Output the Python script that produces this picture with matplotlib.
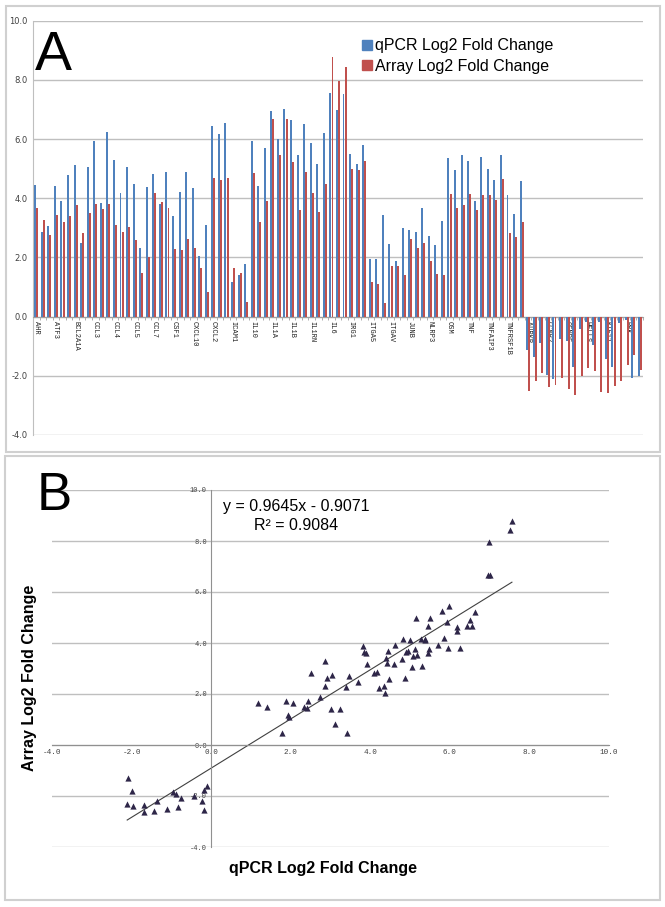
import matplotlib
matplotlib.use('Agg')
import matplotlib.pyplot as plt
import numpy as np
from matplotlib.patches import Patch, Rectangle

# log2 fold change per gene (93 genes)
qpcr = [4.45, 2.87, 3.05, 4.40, 3.91, 4.79, 5.12, 2.50, 5.07, 5.95, 3.84, 6.25, 5.29, 4.17, 5.05, 4.48, 2.33, 4.38, 4.81,
        3.82, 4.90, 3.40, 4.22, 4.88, 4.35, 2.05, 3.11, 6.43, 6.17, 6.55, 1.17, 1.41, 1.79, 5.93, 4.41, 5.69, 6.95,
        5.99, 7.02, 6.64, 5.45, 6.50, 5.86, 5.17, 6.19, 7.56, 6.98, 7.51, 5.51, 5.15, 5.81, 1.94, 1.95, 3.42, 2.44, 1.88,
        3.01, 2.92, 2.86, 3.68, 2.73, 2.42, 3.24, 5.37, 4.94, 5.47, 5.27, 3.90, 5.38, 4.99, 4.61, 5.45, 4.10, 3.46, 4.59,
        -1.12, -1.35, -0.88, -1.97, -2.11, -0.75, -0.84, -1.69, -0.42, -0.18, -0.97, -0.19, -1.44, -1.69, -0.22, -0.11,
        -2.08, -2.00]
array = [3.67, 3.28, 2.76, 3.42, 3.19, 3.39, 3.77, 2.83, 3.50, 3.80, 3.65, 3.82, 3.09, 2.86, 3.04, 2.58, 1.48, 2.03, 4.17,
         3.87, 3.66, 2.27, 2.24, 2.61, 2.33, 1.64, 0.84, 4.68, 4.61, 4.68, 1.64, 1.48, 0.48, 4.84, 3.21, 3.92, 6.68,
         5.45, 6.68, 5.23, 3.60, 4.89, 4.19, 3.54, 4.47, 8.78, 7.96, 8.45, 5.00, 4.97, 5.26, 1.18, 1.11, 0.47, 1.72, 1.72,
         1.40, 2.64, 2.32, 2.48, 1.89, 1.44, 1.42, 4.14, 3.67, 3.78, 4.14, 3.60, 4.10, 4.10, 3.94, 4.65, 2.82, 2.69, 3.19,
         -2.51, -2.19, -1.91, -2.39, -2.30, -2.07, -2.45, -2.64, -2.00, -1.75, -1.85, -2.56, -2.58, -2.35, -2.18, -1.62,
         -1.28, -1.80]
# only every third gene is labelled on the axis
gene_labels = ['AHR', 'ATF3', 'BCL2A1A', 'CCL3', 'CCL4', 'CCL5', 'CCL7', 'CSF1', 'CXCL10', 'CXCL2',
               'ICAM1', 'IL10', 'IL1A', 'IL1B', 'IL1RN', 'IL6', 'IRG1', 'ITGA5', 'ITGAV', 'JUNB',
               'NLRP3', 'OSM', 'TNF', 'TNFAIP3', 'TNFRSF1B', 'AURKB', 'CCNB2', 'CENPF', 'HELLS', 'KIF11', 'PBK']
slope, intercept = 0.9645, -0.9071

BLUE = '#4f81bd'
RED = '#c0504d'
GRID = '#bfbfbf'
W, H = 665, 907

fig = plt.figure(figsize=(W / 100, H / 100), dpi=100)
fig.patches.append(Rectangle((6 / W, 1 - 452 / H), 654 / W, 446 / H, transform=fig.transFigure,
                             fill=False, edgecolor='#d0d0d0', lw=1.5))
fig.patches.append(Rectangle((5 / W, 1 - 900 / H), 655 / W, 444 / H, transform=fig.transFigure,
                             fill=False, edgecolor='#d0d0d0', lw=1.5))

# ---- panel A: bars
ax = fig.add_axes([33 / W, 1 - 435 / H, 610 / W, 414.3 / H])
n = len(qpcr)
x = np.arange(n)
ax.bar(x - 0.16, qpcr, width=0.3, color=BLUE, lw=0, label='qPCR Log2 Fold Change', zorder=3)
ax.bar(x + 0.16, array, width=0.3, color=RED, lw=0, label='Array Log2 Fold Change', zorder=3)
ax.set_xlim(-0.5, n - 0.5)
ax.set_ylim(-4, 10)
for s in ['top', 'right']:
    ax.spines[s].set_visible(False)
ax.spines['left'].set_color(GRID)
ax.spines['bottom'].set_position(('data', 0))
ax.spines['bottom'].set_color('#a0a0a0')
ax.set_yticks(np.arange(-4, 10.1, 2))
ax.set_yticklabels([f'{v:.1f}' for v in np.arange(-4, 10.1, 2)], fontsize=6, color='#404040')
ax.yaxis.grid(True, color=GRID, lw=1, zorder=0)
ax.set_xticks(x[::3])
ax.set_xticklabels(gene_labels, rotation=-90, fontsize=5, family='Liberation Mono', color='#202020')
ax.set_xticks(np.arange(-0.5, n, 1), minor=True)
ax.tick_params(axis='x', which='major', length=0, pad=3)
ax.tick_params(axis='x', which='minor', length=2, color='#a0a0a0')
ax.tick_params(axis='y', length=0, pad=4)
ax.legend(handles=[Patch(color=BLUE, label='qPCR Log2 Fold Change'),
                   Patch(color=RED, label='Array Log2 Fold Change')],
          loc='upper left', bbox_to_anchor=(348 / W, 1 - 24 / H), bbox_transform=fig.transFigure,
          frameon=False, handlelength=0.6, handleheight=0.6, handletextpad=0.2,
          labelspacing=0.35, prop={'family': 'Liberation Sans', 'size': 11.5})
fig.text(35 / W, 1 - 70 / H, 'A', fontsize=40, family='Liberation Sans', va='baseline')

# ---- panel B: scatter
bx = fig.add_axes([52 / W, 1 - 847 / H, 557 / W, 357 / H])
bx.scatter(qpcr, array, marker='^', s=20, color='#2e2648', zorder=3, linewidths=0)
xs = np.array([min(qpcr), max(qpcr)])
bx.plot(xs, slope * xs + intercept, color='#404040', lw=0.8, zorder=2)
bx.set_xlim(-4, 10)
bx.set_ylim(-4, 10)
for s in ['top', 'right']:
    bx.spines[s].set_visible(False)
bx.spines['left'].set_position(('data', 0))
bx.spines['bottom'].set_position(('data', 0))
bx.spines['left'].set_color('#909090')
bx.spines['bottom'].set_color('#909090')
ticks = np.arange(-4, 10.1, 2)
bx.set_xticks(ticks)
bx.set_xticklabels([f'{v:.1f}' for v in ticks], fontsize=5.5, color='#404040', family='Liberation Mono')
bx.set_yticks(ticks)
bx.set_yticklabels([f'{v:.1f}' for v in ticks], fontsize=5, color='#404040', family='Liberation Mono')
bx.yaxis.grid(True, color=GRID, lw=1, zorder=0)
bx.tick_params(length=0, pad=3)
fig.text(223 / W, 1 - 507 / H, f'y = {slope}x - {abs(intercept)}', fontsize=11.5,
         family='Liberation Sans', va='center')
fig.text(254 / W, 1 - 526 / H, 'R² = 0.9084', fontsize=11.5, family='Liberation Sans', va='center')
fig.text(323 / W, 1 - 868 / H, 'qPCR Log2 Fold Change', fontsize=11.5, fontweight='bold',
         family='Liberation Sans', ha='center', va='center')
fig.text(30 / W, 1 - 678 / H, 'Array Log2 Fold Change', fontsize=11.5, fontweight='bold',
         family='Liberation Sans', ha='center', va='center', rotation=90)
fig.text(37 / W, 1 - 510 / H, 'B', fontsize=38, family='Liberation Sans', va='baseline')

fig.savefig('out.png', dpi=100)
